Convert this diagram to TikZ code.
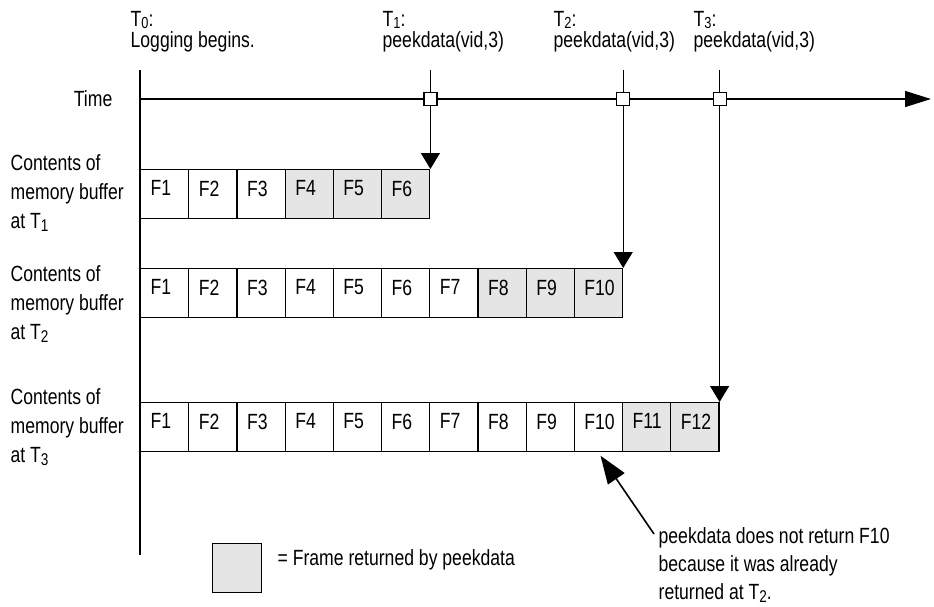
\documentclass[tikz,border=0pt]{standalone}
\usepackage{fontspec}
\setmainfont{Liberation Sans}[FakeStretch=0.8]
\usetikzlibrary{arrows.meta}
\definecolor{peekgray}{HTML}{E5E5E5}
\newcommand{\tsub}[1]{T\raisebox{-3pt}{\fontsize{17}{17}\selectfont #1}}
\newcommand{\tsubhi}[1]{T\raisebox{-1.5pt}{\fontsize{16}{16}\selectfont #1}}

\begin{document}
\begin{tikzpicture}[x=1pt,y=-1pt,line width=1.3pt,
  txt/.style={inner sep=0pt,align=left,font=\fontsize{22}{21}\selectfont},
  rowlabel/.style={inner sep=0pt,align=left,anchor=west,font=\fontsize{22}{29}\selectfont},
  flabel/.style={anchor=north west,inner sep=0pt,xshift=10pt,yshift=-11pt,font=\fontsize{22}{22}\selectfont},
  cell/.style={draw,anchor=north west,minimum width=48.2pt,minimum height=48.5pt,inner sep=0pt,line width=1.2pt,fill=white},
  gcell/.style={cell,fill=peekgray},
  tickbox/.style={draw,fill=white,minimum size=13pt,inner sep=0pt,line width=1.2pt}]
\useasboundingbox (0,0) rectangle (934,606);

% labels on top
\node[txt,anchor=north west] (l0) at (130,11) {\tsubhi{0}:\\Logging begins.};
\node[txt,anchor=north west] (l1) at (382,11) {\tsubhi{1}:\\peekdata(vid,3)};
\node[txt,anchor=north west] (l2) at (553,11) {\tsubhi{2}:\\peekdata(vid,3)};
\node[txt,anchor=north west] (l3) at (693,11) {\tsubhi{3}:\\peekdata(vid,3)};
\node[txt,anchor=east] (time) at (113,99) {Time};

\node[rowlabel] (r1) at (10,193) {Contents of\\memory buffer\\at \tsub{1}};
\node[rowlabel] (r2) at (10,304) {Contents of\\memory buffer\\at \tsub{2}};
\node[rowlabel] (r3) at (10,427) {Contents of\\memory buffer\\at \tsub{3}};

% axes
\coordinate (vtop) at (140,70);
\coordinate (vbot) at (140,555);
\coordinate (o) at (140,99);
\coordinate (tend) at (931,99);
\draw (vtop) -- (vbot);
\draw[-{Triangle[length=26pt,width=16pt]}] (o) -- (tend);

% buffers
\foreach \i in {1,...,3}
  \node[cell,label={[flabel]north west:F\i}] (a\i) at ({140+48.2*(\i-1)},169) {};
\foreach \i in {4,...,6}
  \node[gcell,label={[flabel]north west:F\i}] (a\i) at ({140+48.2*(\i-1)},169) {};

\foreach \i in {1,...,7}
  \node[cell,label={[flabel]north west:F\i}] (b\i) at ({140+48.2*(\i-1)},268) {};
\foreach \i in {8,...,10}
  \node[gcell,label={[flabel]north west:F\i}] (b\i) at ({140+48.2*(\i-1)},268) {};

\foreach \i in {1,...,10}
  \node[cell,label={[flabel]north west:F\i}] (c\i) at ({140+48.2*(\i-1)},402) {};
\foreach \i in {11,12}
  \node[gcell,label={[flabel]north west:F\i}] (c\i) at ({140+48.2*(\i-1)},402) {};

% peekdata calls
\coordinate (t1) at (a6.north east |- vtop);
\coordinate (t2) at (b10.north east |- vtop);
\coordinate (t3) at (c12.north east |- vtop);
\draw[-{Triangle[length=16pt,width=19pt]}] (t1) -- (a6.north east);
\draw[-{Triangle[length=16pt,width=19pt]}] (t2) -- (b10.north east);
\draw[-{Triangle[length=16pt,width=19pt]}] (t3) -- (c12.north east);
\node[tickbox] (q1) at (t1 |- o) {};
\node[tickbox] (q2) at (t2 |- o) {};
\node[tickbox] (q3) at (t3 |- o) {};

% legend
\node[gcell,minimum width=49pt,minimum height=49pt] (key) at (212,543) {};
\node[txt,anchor=west] (keytxt) at (277,560) {= Frame returned by peekdata};

% note
\node[txt,anchor=north west,font=\fontsize{22}{28}\selectfont] (note) at (658,527)
  {peekdata does not return F10\\because it was already\\returned at \tsub{2}.};
\draw[-{Triangle[length=28pt,width=20pt]},line width=1.6pt]
  ([shift={(-4pt,-7pt)}]note.north west) -- ([shift={(2pt,-4pt)}]c10.south);
\end{tikzpicture}
\end{document}
